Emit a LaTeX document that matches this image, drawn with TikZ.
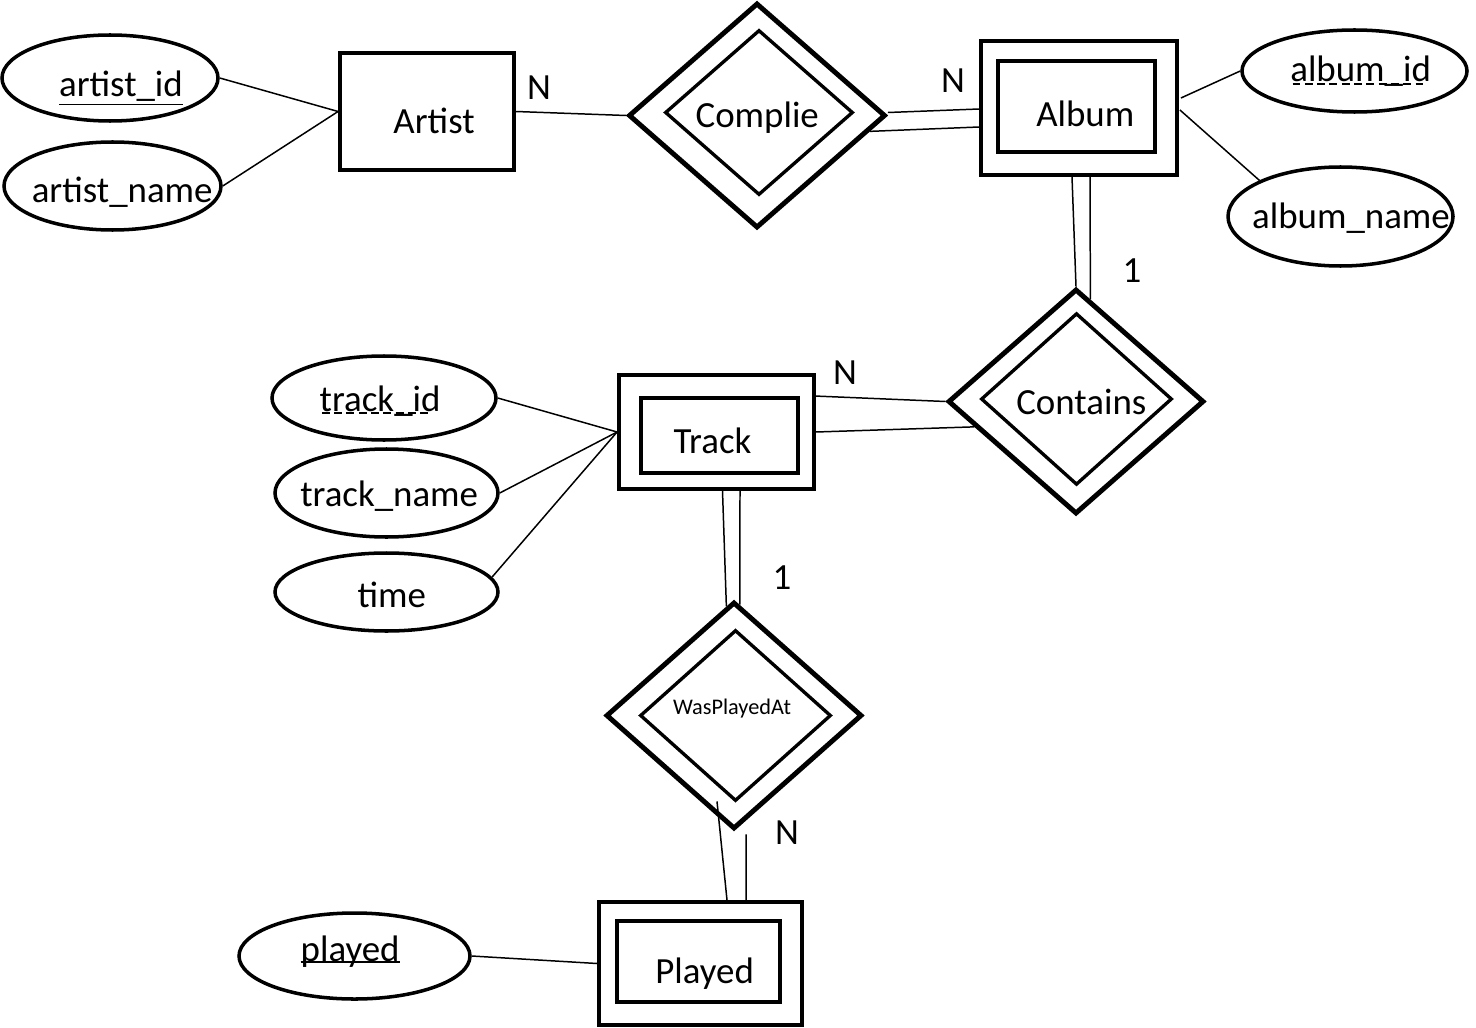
\documentclass[tikz,border=0pt]{standalone}
\usepackage{fontspec}
\setmainfont{Carlito}
\usetikzlibrary{shapes.geometric,calc}

% dashed underline and baseline rule for key attributes
\newcommand\dashul[1]{\setbox0\hbox{#1}\rlap{\hbox to \wd0{\leaders\hbox to 7pt{\hfil\rule[-1.5pt]{4.5pt}{0.9pt}\hfil}\hfill}}\box0}
\newcommand\baseul[1]{\setbox0\hbox{#1}\rlap{\rule[-0.3pt]{\wd0}{0.9pt}}\box0}

\tikzset{
  wh/.style 2 args={minimum width=#1*0.02cm, minimum height=#2*0.02cm},
  tx/.style 2 args={execute at begin node={\hspace*{#1pt}}, text height=#2pt, text depth=0pt},
  ent/.style={draw, rectangle, line width=2.2pt, inner sep=0pt},
  rel/.style={draw, diamond, line width=2.8pt, inner sep=0pt},
  relin/.style={draw, diamond, line width=1.9pt, inner sep=0pt},
  attr/.style={draw, ellipse, line width=2pt, inner xsep=-25pt, inner ysep=0pt},
  link/.style={line width=0.85pt},
  card/.style={inner sep=0pt},
}

\begin{document}
\begin{tikzpicture}[x=0.02cm, y=-0.02cm, font=\fontsize{21}{25}\selectfont]
  \useasboundingbox (0,0) rectangle (1476,1027);

  % entities (weak ones get an inner box)
  \node[ent, wh={174}{117}, tx={8}{24.5}] (artist) at (427,111.5) {Artist};
  \node[ent, wh={196}{134}] (album) at (1079,108) {};
  \node[ent, wh={157}{91}, tx={10}{22.2}] (album-in) at (1076.5,106.5) {Album};
  \node[ent, wh={195}{114}] (track) at (716.5,432) {};
  \node[ent, wh={157}{75}, tx={-8}{21}] (track-in) at (719.5,435.5) {Track};
  \node[ent, wh={203}{123}] (played) at (700.5,963.5) {};
  \node[ent, wh={163}{81}, tx={7}{24.5}] (played-in) at (698.5,961.5) {Played};

  % identifying relationships
  \node[rel, wh={257}{225}] (complie) at (757,115.5) {};
  \node[relin, wh={188}{165}, tx={-2}{17}] (complie-in) at (759,112.5) {Complie};
  \node[rel, wh={256}{225}] (contains) at (1076,401.5) {};
  \node[relin, wh={191}{164}, tx={5.5}{18.2}] (contains-in) at (1076.5,399) {Contains};
  \node[rel, wh={256}{227}] (wpa) at (734,715.5) {};
  \node[relin, wh={191}{171}, font=\fontsize{12.7}{15}\selectfont, tx={-4}{0}, text depth=1.6pt] (wpa-in) at (735.5,715.5) {WasPlayedAt};

  % attributes
  \node[attr, wh={216}{86}, tx={12.5}{21.6}] (artist-id) at (110,78) {\underline{artist\_id}};
  \node[attr, wh={217}{88}, tx={11}{19.3}] (artist-name) at (112.5,186) {artist\_name};
  \node[attr, wh={225}{82}, tx={7}{12.5}] (album-id) at (1354.5,71) {\dashul{album\_id}};
  \node[attr, wh={225}{99}, tx={12}{13.1}] (album-name) at (1340.5,216.5) {album\_name};
  \node[attr, wh={224}{84}, tx={-4.5}{14.8}] (track-id) at (384,398) {\dashul{track\_id}};
  \node[attr, wh={223}{88}, tx={3}{15.9}] (track-name) at (386.5,493) {track\_name};
  \node[attr, wh={223}{78}, tx={6}{18.2}] (time) at (386.5,592) {time};
  \node[attr, wh={231}{86}, tx={-5}{6.8}] (played-at) at (354.5,956) {\baseul{played}};

  % attribute links
  \draw[link] (artist-id.east) -- (artist.west);
  \draw[link] (artist-name.east) -- (artist.west);
  \draw[link] ($(album.east)+(2,-10)$) -- (album-id.west);
  \draw[link] ($(album.east)+(1,2)$) -- (album-name.156);
  \draw[link] (track.west) -- (track-id.east);
  \draw[link] (track.west) -- (track-name.east);
  \draw[link] (track.west) -- (time.8);
  \draw[link] (played-at.east) -- (played.west);

  % relationship links (double = total participation)
  \draw[link] (artist.east) -- (complie.west);
  \draw[link] ($(complie.east)+(0,-3)$) -- ($(album.west)+(0,1)$);
  \draw[link] (complie.-8) -- ($(album.west)+(0,19)$);
  \draw[link] ($(album.south)+(-7,0)$) -- (contains.north);
  \draw[link] ($(album.south)+(11,0)$) -- (contains.82);
  \draw[link] ($(track.north east)+(0,23)$) -- (contains.west);
  \draw[link] (track.east) -- (contains.194);
  \draw[link] ($(track.south)+(6,0)$) -- (wpa.94);
  \draw[link] ($(track.south)+(23.5,0)$) -- (wpa.87);
  \draw[link] ($(wpa.south)+(-17,-30)$) -- ($(played.north)+(26.5,0)$);
  \draw[link] ($(wpa.south)+(12,3)$) -- ($(played.north)+(45.5,0)$);

  % cardinalities
  \node[card] (c-artist) at (539,88) {N};
  \node[card] (c-album) at (953,81) {N};
  \node[card] (c-contains) at (1132,271) {1};
  \node[card] (c-track) at (845,373) {N};
  \node[card] (c-wpa) at (782,578) {1};
  \node[card] (c-played) at (787,833) {N};
\end{tikzpicture}
\end{document}
